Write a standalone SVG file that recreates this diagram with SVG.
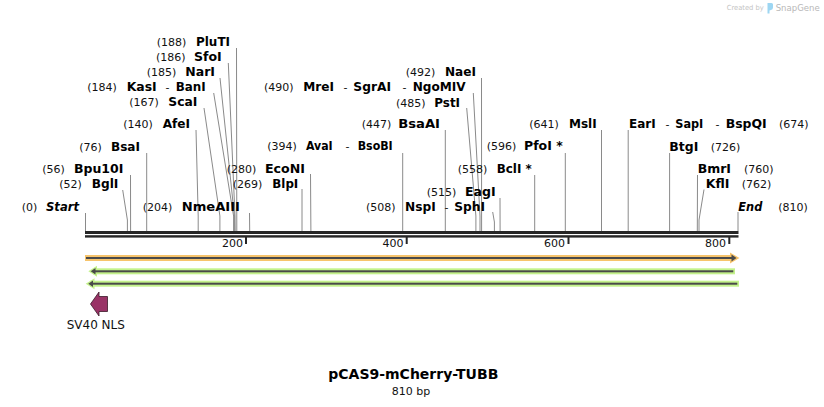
<svg xmlns="http://www.w3.org/2000/svg" width="824" height="407" viewBox="0 0 824 407">
<style>
.n{font-family:"DejaVu Sans","Liberation Sans",sans-serif;font-size:11px;fill:#111}
.e{font-family:"DejaVu Sans","Liberation Sans",sans-serif;font-size:12px;font-weight:bold;fill:#000}
.i{font-style:italic}
.d{font-family:"DejaVu Sans","Liberation Sans",sans-serif;font-size:11px;fill:#111}
.c polyline{fill:none;stroke:#8a8a8a;stroke-width:1}
.tk{font-family:"DejaVu Sans","Liberation Sans",sans-serif;font-size:11px;fill:#111;text-anchor:end}
.glowO{fill:#f7c46c}
.glowG{fill:#c4f28c}
.core{fill:#4a4a4a}
</style>

<g id="logo">
<text x="726.7" y="10" font-family="DejaVu Sans, sans-serif" font-size="7" fill="#c4c4c4" textLength="37" lengthAdjust="spacingAndGlyphs">Created by</text>
<path d="M767.5,3 h4 q1.5,0 1.5,1.5 v3 q0,2 -2,2.5 l-1.5,0.5 v3 h-2 z" fill="#9dd6f2"/>
<text x="775.7" y="11" font-family="DejaVu Sans, sans-serif" font-size="9" fill="#b8b8b8" textLength="44" lengthAdjust="spacingAndGlyphs">SnapGene</text>
</g>

<g id="connectors" class="c">
<polyline points="236.5,48 236.8,231"/>
<polyline points="228.3,63 235,216 235.2,231"/>
<polyline points="220,78 234.4,216 234.4,231"/>
<polyline points="213.7,93 233.6,216 233.6,231"/>
<polyline points="204,108 219.9,216 219.9,231"/>
<polyline points="196,130 198.2,216 198.2,231"/>
<polyline points="146.7,153 146.7,231"/>
<polyline points="130.5,175 130.6,231"/>
<polyline points="122.7,190 127.4,220 127.4,231"/>
<polyline points="85.5,213 85.5,231"/>
<polyline points="249.5,213 249.7,231"/>
<polyline points="310.5,174 310.9,231"/>
<polyline points="302,189 302,231"/>
<polyline points="402.7,153 402.7,231"/>
<polyline points="445.3,130 445.3,231"/>
<polyline points="466.7,108 475.9,216 475.9,231"/>
<polyline points="473.3,93 480,216 480,231"/>
<polyline points="481.5,78 481.6,231"/>
<polyline points="492.7,212 494.4,222 494.4,231"/>
<polyline points="500,198 500.1,231"/>
<polyline points="534.7,175 534.7,231"/>
<polyline points="565.3,153 565.3,231"/>
<polyline points="601.5,130 601.5,231"/>
<polyline points="628.2,130 628.2,231"/>
<polyline points="669.6,153 669.6,231"/>
<polyline points="697.5,175 697.3,231"/>
<polyline points="704,189.5 699,220 699,231"/>
<polyline points="738,212 738,231"/>
</g>

<g id="backbone">
<rect x="85" y="231" width="653.5" height="3" fill="#262626"/>
<rect x="85" y="235.2" width="653.5" height="2.4" fill="#262626"/>
<rect x="245" y="237" width="2" height="7" fill="#262626"/>
<rect x="405.7" y="237" width="2" height="7" fill="#262626"/>
<rect x="567.5" y="237" width="2" height="7" fill="#262626"/>
<rect x="728.3" y="237" width="2" height="7" fill="#262626"/>
<text class="tk" x="243" y="247">200</text>
<text class="tk" x="403.5" y="247">400</text>
<text class="tk" x="565" y="247">600</text>
<text class="tk" x="726" y="247">800</text>
</g>

<g id="e-PluTI"><text class="n" x="156.7" y="46">(188)</text><text class="e" x="196" y="46" textLength="34" lengthAdjust="spacingAndGlyphs">PluTI</text></g>
<g id="e-SfoI"><text class="n" x="156" y="61">(186)</text><text class="e" x="194" y="61" textLength="27.7" lengthAdjust="spacingAndGlyphs">SfoI</text></g>
<g id="e-NarI"><text class="n" x="146.7" y="76">(185)</text><text class="e" x="185.3" y="76" textLength="29.7" lengthAdjust="spacingAndGlyphs">NarI</text></g>
<g id="e-KasI"><text class="n" x="87.3" y="91">(184)</text><text class="e" x="126.7" y="91" textLength="30" lengthAdjust="spacingAndGlyphs">KasI</text><text class="d" x="165.5" y="91">-</text><text class="e" x="175.7" y="91" textLength="30" lengthAdjust="spacingAndGlyphs">BanI</text></g>
<g id="e-ScaI"><text class="n" x="129.3" y="106">(167)</text><text class="e" x="168.3" y="106" textLength="29" lengthAdjust="spacingAndGlyphs">ScaI</text></g>
<g id="e-AfeI"><text class="n" x="123.3" y="128">(140)</text><text class="e" x="162.7" y="128" textLength="27.3" lengthAdjust="spacingAndGlyphs">AfeI</text></g>
<g id="e-BsaI"><text class="n" x="79.3" y="150.5">(76)</text><text class="e" x="111" y="150.5" textLength="29" lengthAdjust="spacingAndGlyphs">BsaI</text></g>
<g id="e-Bpu10I"><text class="n" x="42.3" y="172.5">(56)</text><text class="e" x="74" y="172.5" textLength="49.3" lengthAdjust="spacingAndGlyphs">Bpu10I</text></g>
<g id="e-BglI"><text class="n" x="59.3" y="187.5">(52)</text><text class="e" x="91.7" y="187.5" textLength="26.7" lengthAdjust="spacingAndGlyphs">BglI</text></g>
<g id="e-Start"><text class="n" x="21.7" y="210.5">(0)</text><text class="e i" x="46" y="210.5" textLength="33" lengthAdjust="spacingAndGlyphs">Start</text></g>
<g id="e-NmeAIII"><text class="n" x="142.7" y="210.5">(204)</text><text class="e" x="181.7" y="210.5" textLength="58.3" lengthAdjust="spacingAndGlyphs">NmeAIII</text></g>
<g id="e-EcoNI"><text class="n" x="226.7" y="172.5">(280)</text><text class="e" x="265" y="172.5" textLength="40" lengthAdjust="spacingAndGlyphs">EcoNI</text></g>
<g id="e-BlpI"><text class="n" x="232.7" y="187.5">(269)</text><text class="e" x="272.3" y="187.5" textLength="26" lengthAdjust="spacingAndGlyphs">BlpI</text></g>
<g id="e-AvaI"><text class="n" x="267.3" y="150">(394)</text><text class="e" x="306" y="150" textLength="26.7" lengthAdjust="spacingAndGlyphs">AvaI</text><text class="d" x="345.5" y="150">-</text><text class="e" x="357.7" y="150" textLength="35" lengthAdjust="spacingAndGlyphs">BsoBI</text></g>
<g id="e-BsaAI"><text class="n" x="361.7" y="128.3">(447)</text><text class="e" x="398.3" y="128.3" textLength="41.7" lengthAdjust="spacingAndGlyphs">BsaAI</text></g>
<g id="e-PstI"><text class="n" x="396" y="106.5">(485)</text><text class="e" x="434.3" y="106.5" textLength="25.7" lengthAdjust="spacingAndGlyphs">PstI</text></g>
<g id="e-MreI"><text class="n" x="264" y="90.7">(490)</text><text class="e" x="303.3" y="90.7" textLength="30.7" lengthAdjust="spacingAndGlyphs">MreI</text><text class="d" x="343.5" y="90.7">-</text><text class="e" x="353.3" y="90.7" textLength="37.7" lengthAdjust="spacingAndGlyphs">SgrAI</text><text class="d" x="402.5" y="90.7">-</text><text class="e" x="412.7" y="90.7" textLength="53" lengthAdjust="spacingAndGlyphs">NgoMIV</text></g>
<g id="e-NaeI"><text class="n" x="405.7" y="76">(492)</text><text class="e" x="445" y="76" textLength="31" lengthAdjust="spacingAndGlyphs">NaeI</text></g>
<g id="e-NspI"><text class="n" x="366" y="210.5">(508)</text><text class="e" x="405" y="210.5" textLength="30.7" lengthAdjust="spacingAndGlyphs">NspI</text><text class="d" x="444.5" y="210.5">-</text><text class="e" x="454.3" y="210.5" textLength="30.7" lengthAdjust="spacingAndGlyphs">SphI</text></g>
<g id="e-EagI"><text class="n" x="426.7" y="195.7">(515)</text><text class="e" x="465" y="195.7" textLength="30.7" lengthAdjust="spacingAndGlyphs">EagI</text></g>
<g id="e-BclI"><text class="n" x="457.7" y="172.5">(558)</text><text class="e" x="496.7" y="172.5" textLength="35" lengthAdjust="spacingAndGlyphs">BclI *</text></g>
<g id="e-PfoI"><text class="n" x="486.7" y="149.5">(596)</text><text class="e" x="524" y="149.5" textLength="38.7" lengthAdjust="spacingAndGlyphs">PfoI *</text></g>
<g id="e-MslI"><text class="n" x="529.3" y="127.7">(641)</text><text class="e" x="569" y="127.7" textLength="27.7" lengthAdjust="spacingAndGlyphs">MslI</text></g>
<g id="e-EarI"><text class="e" x="629" y="127.7" textLength="26.7" lengthAdjust="spacingAndGlyphs">EarI</text><text class="d" x="665.5" y="127.7">-</text><text class="e" x="675.3" y="127.7" textLength="28" lengthAdjust="spacingAndGlyphs">SapI</text><text class="d" x="715.5" y="127.7">-</text><text class="e" x="725.7" y="127.7" textLength="41" lengthAdjust="spacingAndGlyphs">BspQI</text><text class="n" x="779" y="127.7">(674)</text></g>
<g id="e-BtgI"><text class="e" x="669.3" y="150.5" textLength="29" lengthAdjust="spacingAndGlyphs">BtgI</text><text class="n" x="710.7" y="150.5">(726)</text></g>
<g id="e-BmrI"><text class="e" x="697.7" y="172.5" textLength="33.3" lengthAdjust="spacingAndGlyphs">BmrI</text><text class="n" x="744" y="172.5">(760)</text></g>
<g id="e-KflI"><text class="e" x="705.7" y="187.5" textLength="23.7" lengthAdjust="spacingAndGlyphs">KflI</text><text class="n" x="741.7" y="187.5">(762)</text></g>
<g id="e-End"><text class="e i" x="738.3" y="210.5" textLength="24" lengthAdjust="spacingAndGlyphs">End</text><text class="n" x="778.3" y="210.5">(810)</text></g>

<g id="feature-orange">
<rect class="glowO" x="85" y="255" width="647" height="6"/>
<polygon class="glowO" points="730,252.5 739.5,258 730,263.5"/>
<rect class="core" x="86" y="257" width="647" height="2"/>
<polygon class="core" points="731.5,254.5 736.5,258 731.5,261.5"/>
</g>
<g id="feature-green1">
<rect class="glowG" x="93" y="268.3" width="642" height="6"/>
<polygon class="glowG" points="88.3,271.3 97,265.8 97,276.8"/>
<rect class="core" x="93" y="270.3" width="640.3" height="2"/>
<polygon class="core" points="90.7,271.3 95.5,268 95.5,274.6"/>
</g>
<g id="feature-green2">
<rect class="glowG" x="90" y="280.7" width="649" height="6"/>
<polygon class="glowG" points="85.7,283.7 94.5,278.2 94.5,289.2"/>
<rect class="core" x="91" y="282.7" width="646.3" height="2"/>
<polygon class="core" points="88.3,283.7 93,280.4 93,287"/>
</g>
<g id="SV40-NLS">
<polygon points="90.5,304 99,292 99,296.5 107.5,296.5 107.5,311.5 99,311.5 99,316" fill="#993366" stroke="#3a1a2a" stroke-width="0.8"/>
<text x="66.7" y="329" font-family="DejaVu Sans, sans-serif" font-size="12" fill="#111">SV40 NLS</text>
</g>

<g id="title">
<text x="413.3" y="378.5" text-anchor="middle" font-family="DejaVu Sans, sans-serif" font-size="14" font-weight="bold" fill="#000">pCAS9-mCherry-TUBB</text>
<text x="411" y="394.5" text-anchor="middle" font-family="DejaVu Sans, sans-serif" font-size="11" fill="#111">810 bp</text>
</g>
</svg>
